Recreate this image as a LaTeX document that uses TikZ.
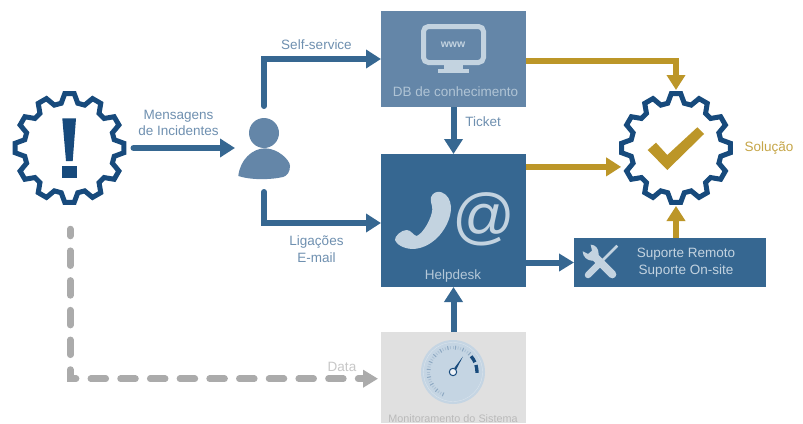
\documentclass[tikz,border=0pt]{standalone}
\usepackage{fontspec}
\setmainfont{Liberation Sans}
\usetikzlibrary{arrows.meta,calc}
\definecolor{gearblue}{HTML}{174A7C}
\definecolor{deskblue}{HTML}{366791}
\definecolor{kbblue}{HTML}{6486A8}
\definecolor{gold}{HTML}{BC9628}
\definecolor{paleblue}{HTML}{C3D3E0}
\definecolor{textblue}{HTML}{6F90B0}
\definecolor{dashgray}{HTML}{ABABAB}
\definecolor{boxgray}{HTML}{E0E0E0}
\definecolor{dial}{HTML}{C5D5E3}
\tikzset{
  flowblue/.style={draw=deskblue,line width=6pt,-{Triangle[length=15pt,width=18pt]}},
  flowgold/.style={draw=gold,line width=6pt,-{Triangle[length=15pt,width=18pt]}},
  flowgray/.style={draw=dashgray,line width=6.5pt,line cap=round,dash pattern=on 15pt off 14.7pt,dash phase=8pt,-{Triangle[length=15pt,width=17pt]}},
  boxnode/.style={minimum width=145pt,inner sep=0pt,outer sep=0pt,rectangle},
  lbl/.style={inner sep=0pt,outer sep=0pt,align=center,font=\fontsize{13.5}{16.5}\selectfont},
  gearline/.style={draw=gearblue,line width=5pt,line join=miter,miter limit=3}
}
\newcommand{\geardraw}[1]{%
  \begin{scope}[shift={(#1.center)}]
    \draw[gearline] (-10.5:45.5)
      \foreach \a in {0,30,...,330} {
        -- ({\a-10.5}:45.5) -- ({\a-5}:54.5) -- ({\a+5}:54.5) -- ({\a+10.5}:45.5) -- ({\a+19.5}:45.5)
      } -- cycle;
  \end{scope}}
\begin{document}
\begin{tikzpicture}[x=1pt,y=-1pt]
\path[use as bounding box,fill=white] (0,0) rectangle (803,423);

% boxes
\node[boxnode,fill=kbblue,minimum height=96pt] (kb) at (453.5,59) {};
\node[boxnode,fill=deskblue,minimum height=133pt] (help) at (453.5,220.5) {};
\node[boxnode,fill=boxgray,minimum height=91pt] (mon) at (453.5,377.5) {};
\node[rectangle,fill=deskblue,minimum width=192pt,minimum height=49pt,inner sep=0pt,outer sep=0pt] (sup) at (670,262.5) {};

% gears
\node[circle,minimum size=116pt,inner sep=0pt,outer sep=0pt] (gearL) at (69.5,148) {};
\node[circle,minimum size=116pt,inner sep=0pt,outer sep=0pt] (gearR) at (676,148) {};
\geardraw{gearL}
\geardraw{gearR}
\fill[gearblue] (62.3,118.3) -- (76,118.3) -- (72.7,161) -- (66,161) -- cycle;
\fill[gearblue] (62.3,166) rectangle (77,178.3);
\fill[gold] (647.7,150) -- (656,142.7) -- (667.3,155) -- (697.3,127.3) -- (704,134) -- (667.3,170) -- cycle;

% person
\node[rectangle,minimum width=52pt,minimum height=60pt,inner sep=0pt,outer sep=0pt] (person) at (264,148) {};
\fill[kbblue] (264,133) circle (15);
\fill[kbblue] (238.3,176) .. controls (240,160) and (252,148.5) .. (265,148.3) .. controls (278,148.5) and (290,160) .. (290,166) .. controls (290,172) and (287,176) .. (283,177) .. controls (270,180) and (250,180) .. (238.3,176) -- cycle;

% connectors
\draw[flowblue,line cap=round,shorten <=6pt,shorten >=3pt] (gearL.east) -- (person.west);
\coordinate (selfc) at (person.north |- kb.west);
\draw[flowblue,line cap=round,shorten <=12pt] (person.north) -- (selfc) -- (kb.west);
\coordinate (ligc) at ($(help.west)+(-117,2.5)$);
\draw[flowblue,line cap=round,shorten <=14pt] (person.south) -- (person.south |- ligc) -- (help.west |- ligc);
\draw[flowblue] (kb.south) -- (help.north);
\draw[flowblue] (mon.north) -- (help.south);
\draw[flowblue,-{Triangle[length=15pt,width=17pt]}] (help.east |- sup.west) -- (sup.west);
\coordinate (goldc) at (gearR.north |- 0,61);
\draw[flowgold] (kb.east |- goldc) -- (goldc) -- (gearR.north);
\draw[flowgold] (help.east |- gearR.199) -- (gearR.199);
\draw[flowgold] (gearR.south |- sup.north) -- (gearR.south);
\coordinate (dashs) at (70.3,229);
\coordinate (dashc) at (70.3,378.7);
\draw[flowgray,shorten >=3pt] (dashs) -- (dashc) -- (mon.west |- dashc);

% labels
\node[lbl,text=textblue] (t1) at (178.5,123) {Mensagens\\de Incidentes};
\node[lbl,text=textblue] (t2) at (316.5,45) {Self-service};
\node[lbl,text=textblue] (t3) at (316.5,249) {Ligações\\E-mail};
\node[lbl,text=textblue] (t4) at (483,122) {Ticket};
\node[lbl,text=gold!85] (t5) at (769,148) {Solução};
\node[lbl,text=black!22] (t6) at (342,367) {Data};
\node[lbl,text=paleblue!80!kbblue] (t7) at (455.5,92) {DB de conhecimento};
\node[lbl,text=paleblue!90!deskblue] (t8) at (453,276) {Helpdesk};
\node[lbl,text=paleblue] (t9) at (686,262.5) {Suporte Remoto\\Suporte On-site};
\node[lbl,text=black!27,font=\fontsize{10.8}{12}\selectfont] (t10) at (453,418.5) {Monitoramento do Sistema};

% monitor icon
\draw[paleblue,line width=5pt,rounded corners=5pt] (423.5,26.5) rectangle (483.5,62.5);
\fill[paleblue] (444,60) rectangle (463,69);
\fill[paleblue] (438,69) rectangle (469,73);
\node[inner sep=0pt,text=paleblue,font=\fontsize{10.5}{11}\bfseries\selectfont] (www) at (453,45) {www};

% phone and at
\begin{scope}[shift={(375,150)},scale=1/3]
\fill[paleblue] (168,142) .. controls (172,128) and (188,122) .. (200,127) .. controls (218,134) and (226,150) .. (228,170) .. controls (230,215) and (190,285) .. (125,296) .. controls (100,300) and (68,290) .. (60,270) .. controls (58,260) and (78,240) .. (95,240) .. controls (108,240) and (115,256) .. (125,258) .. controls (145,250) and (170,205) .. (172,178) .. controls (172,165) and (165,155) .. (168,142) -- cycle;
\end{scope}
\node[inner sep=0pt,text=paleblue,font=\fontsize{62}{62}\selectfont] (at) at (484,219) {@};

% tools icon
\begin{scope}[shift={(578,240)},scale=1/3]
\draw[paleblue,line width=8pt,line cap=round] (50,50) -- (103,103);
\fill[paleblue] (14,34) -- (30,42) -- (42,32) -- (38,14) .. controls (52,14) and (62,25) .. (62,42) -- (62,60) -- (42,62) .. controls (28,62) and (14,50) .. (14,34) -- cycle;
\draw[paleblue,line width=2.5pt] (118,17) -- (72,63);
\draw[paleblue,line width=6.5pt,line cap=round] (70,65) -- (30,105);
\end{scope}

% dial
\fill[dial] (453,372) circle (32);
\draw[white,opacity=.35,line width=.4pt] (453,372) circle (29.5);
\foreach \a in {114,120,...,312} {
  \draw[textblue!30!dial,line width=.8pt] ($(453,372)+(\a:23)$) -- ($(453,372)+(\a:26)$);
}
\foreach \a in {114,132,...,312} {
  \draw[textblue!65!dial,line width=.9pt] ($(453,372)+(\a:22.5)$) -- ($(453,372)+(\a:26.5)$);
}
\draw[gearblue,line width=3.3pt] ($(453,372)+(-41:24)$) arc[start angle=-41,end angle=-24,radius=24];
\draw[gearblue,line width=3.3pt] ($(453,372)+(-17:24)$) arc[start angle=-17,end angle=2,radius=24];
\fill[gearblue] (454.2,368.2) -- (456.2,369.6) -- (462.9,356.6) -- cycle;
\draw[gearblue,line width=1pt,fill=dial!30!white] (453,372) circle (3.7);
\end{tikzpicture}
\end{document}
